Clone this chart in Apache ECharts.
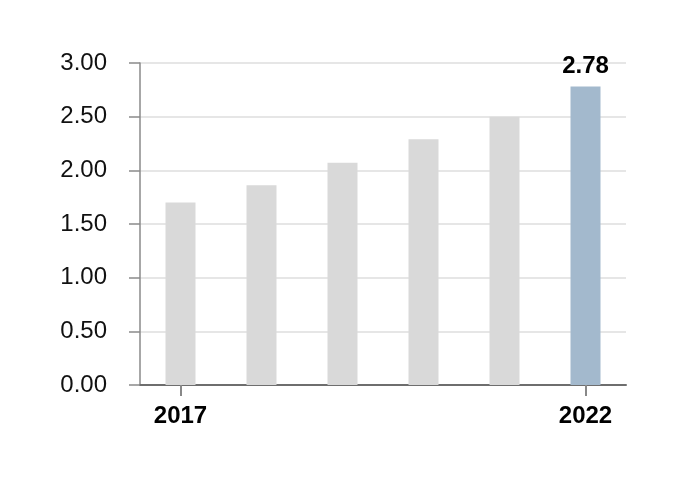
<!DOCTYPE html>
<html>
<head>
<meta charset="utf-8">
<script src="https://cdn.jsdelivr.net/npm/echarts@6/dist/echarts.min.js"></script>
<style>html,body{margin:0;padding:0;background:#fff}#c{width:690px;height:492px}</style>
</head>
<body>
<div id="c"></div>
<script>
var categories = ['2017', '2018', '2019', '2020', '2021', '2022'];
var values = [1.70, 1.86, 2.07, 2.29, 2.50, 2.78];
var shownLabels = ['2017', '2022'];
var highlightCategory = '2022';

var chart = echarts.init(document.getElementById('c'), null, {renderer: 'canvas'});
var font = '"Liberation Sans", Arial, sans-serif';
function isShown(i) { return shownLabels.indexOf(categories[i]) >= 0; }
var data = values.map(function (v, i) {
  var hl = categories[i] === highlightCategory;
  return {
    value: v,
    itemStyle: {color: hl ? '#a3b9cd' : '#d9d9d9'},
    label: hl ? {show: true, position: 'top', distance: 8, formatter: function (p) { return p.value.toFixed(2); },
      fontFamily: font, fontWeight: 'bold', fontSize: 24, color: '#000'} : {show: false}
  };
});
chart.setOption({
  animation: false,
  grid: {left: 140, right: 64, top: 63, bottom: 107},
  xAxis: {
    type: 'category',
    data: categories,
    axisLine: {lineStyle: {color: '#6e6e6e', width: 2}},
    axisTick: {
      show: true, alignWithLabel: true, length: 11, lineStyle: {color: '#888', width: 2},
      interval: function (i) { return isShown(i); }
    },
    axisLabel: {
      interval: function (i) { return isShown(i); },
      fontFamily: font, fontWeight: 'bold', fontSize: 24, color: '#000', margin: 19
    },
    splitLine: {show: false}
  },
  yAxis: {
    type: 'value',
    min: 0, max: 3, interval: 0.5,
    axisLine: {show: true, lineStyle: {color: '#8a8a8a', width: 1.5}},
    axisTick: {show: true, length: 11, lineStyle: {color: '#8a8a8a', width: 1.5}},
    axisLabel: {
      formatter: function (v) { return v.toFixed(2); },
      fontFamily: font, fontSize: 24, color: '#111', margin: 33, padding: [5, 0, 0, 0]
    },
    splitLine: {lineStyle: {color: '#e6e6e6', width: 2}}
  },
  series: [{
    type: 'bar',
    data: data,
    barWidth: 30
  }]
});
</script>
</body>
</html>
